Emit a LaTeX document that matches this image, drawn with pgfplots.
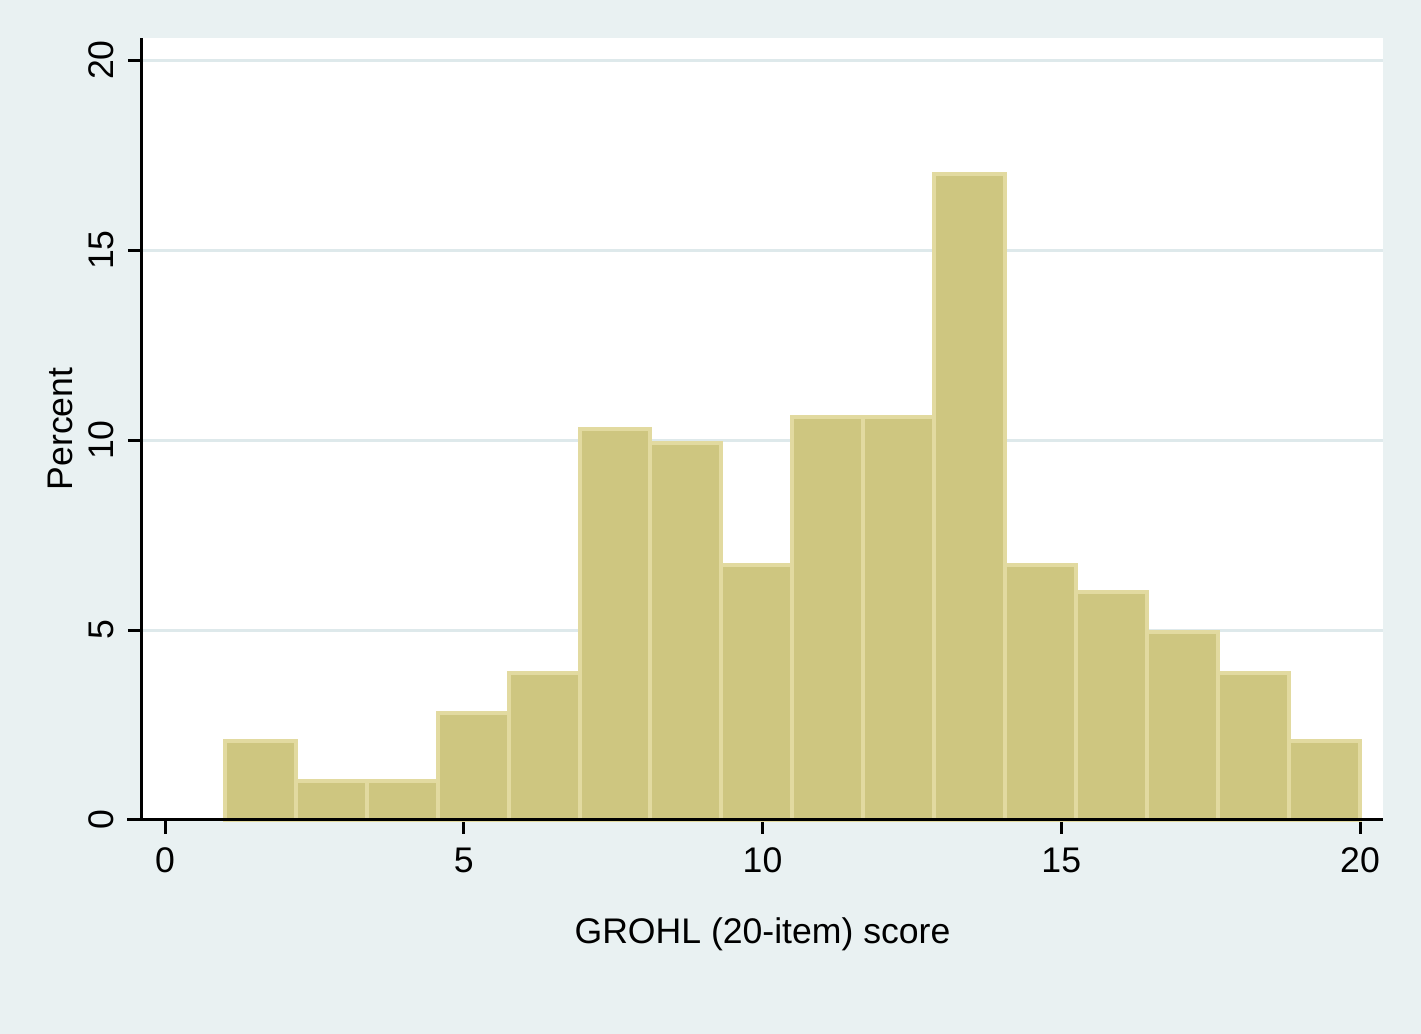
\documentclass[border=0pt]{standalone}
\usepackage{fontspec}
\setmainfont{Liberation Sans}
\usepackage{pgfplots}
\pgfplotsset{compat=1.18}

\definecolor{bgc}{RGB}{233,241,242}
\definecolor{gridc}{RGB}{222,233,235}
\definecolor{barfill}{RGB}{206,198,128}
\definecolor{barline}{RGB}{226,218,160}

\newcommand{\chartfont}{\fontsize{8.9}{10.7}\selectfont}

\begin{document}
\begin{tikzpicture}
\fill[bgc] (-35.5pt,-53.5pt) rectangle (319.75pt,205pt);
\begin{axis}[
    at={(0,0)}, anchor=south west,
    scale only axis,
    width=310.25pt, height=195.5pt,
    xmin=-0.385, xmax=20.385,
    ymin=0, ymax=20.58,
    clip=false,
    axis x line*=bottom,
    axis y line*=left,
    axis line style={line width=0.75pt, black},
    axis background/.style={fill=white},
    xtick={0,5,10,15,20},
    ytick={0,5,10,15,20},
    tick align=outside,
    major tick length=3.5pt,
    tick style={line width=0.75pt, black},
    ymajorgrids,
    grid style={line width=0.75pt, gridc},
    /pgf/number format/assume math mode=true,
    tick label style={font=\chartfont},
    yticklabel style={rotate=90, anchor=south},
    xlabel={GROHL (20-item) score},
    ylabel={Percent},
    label style={font=\chartfont},
    xlabel style={at={(axis description cs:0.5,-0.1573)}, anchor=base},
    ylabel style={at={(axis description cs:-0.0564,0.5)}, anchor=base, rotate=0},
]
\addplot[ybar interval, fill=barfill, draw=barline, line width=1pt]
coordinates {
(1,2.08) (2.1875,1.03) (3.375,1.03) (4.5625,2.82) (5.75,3.87)
(6.9375,10.28) (8.125,9.92) (9.3125,6.71) (10.5,10.6) (11.6875,10.6)
(12.875,17.0) (14.0625,6.71) (15.25,6.0) (16.4375,4.95) (17.625,3.87)
(18.8125,2.08) (20,2.08)
};
\draw[line width=0.75pt, black] (axis cs:-0.636,0) -- (axis cs:20.385,0);
\end{axis}
\end{tikzpicture}
\end{document}
